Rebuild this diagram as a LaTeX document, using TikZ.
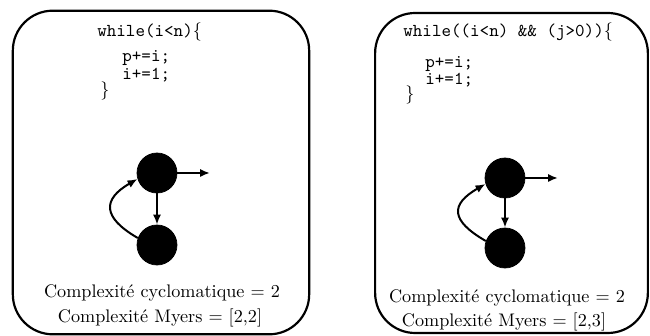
\documentclass[tikz,border=0pt]{standalone}
\usetikzlibrary{arrows.meta}
\begin{document}
\begin{tikzpicture}[x=0.55pt,y=0.55pt,
  panel/.style={draw=black,line width=1.2pt,rounded corners=22pt},
  dot/.style={circle,fill=black,draw=black,minimum size=22pt,inner sep=0pt},
  edge/.style={line width=1.1pt,-{Latex[length=5.5pt,width=4.5pt]}},
  code/.style={anchor=base west,inner sep=0pt,font=\ttfamily},
  label/.style={anchor=base,inner sep=0pt}]
\useasboundingbox (0,0) rectangle (650,336);
% left panel
\node[panel,minimum width=163pt,minimum height=178pt,inner sep=0pt] (L) at (161,163.5) {};
\node[code] (l1) at (97,299) {while(i<n)$\{$};
\node[code] (l2) at (122,274) {p+=i;};
\node[code] (l3) at (122,256) {i+=1;};
\node[code] (l4) at (100,240) {$\}$};
\node[dot] (a1) at (157,163) {};
\node[dot] (a2) at (157,91) {};
\coordinate (aout) at (210,163);
\draw[edge] (a1) -- (aout);
\draw[edge] (a1) -- (a2);
\draw[edge] (a2.160) .. controls +(150:41) and +(210:41) .. (a1.197);
\node[label] (lc1) at (162,38) {Complexit\'e cyclomatique = 2};
\node[label] (lc2) at (160,13) {Complexit\'e Myers = [2,2]};
% right panel
\node[panel,minimum width=150pt,minimum height=176pt,inner sep=0pt] (R) at (511.5,163) {};
\node[code] (r1) at (403,299) {while((i<n) \&\& (j>0))$\{$};
\node[code] (r2) at (425,268) {p+=i;};
\node[code] (r3) at (425,251) {i+=1;};
\node[code] (r4) at (405,236) {$\}$};
\node[dot] (b1) at (505,158) {};
\node[dot] (b2) at (505,88) {};
\coordinate (bout) at (558,158);
\draw[edge] (b1) -- (bout);
\draw[edge] (b1) -- (b2);
\draw[edge] (b2.160) .. controls +(150:41) and +(210:41) .. (b1.197);
\node[label] (rc1) at (507,33) {Complexit\'e cyclomatique = 2};
\node[label] (rc2) at (504,9) {Complexit\'e Myers = [2,3]};
\end{tikzpicture}
\end{document}
